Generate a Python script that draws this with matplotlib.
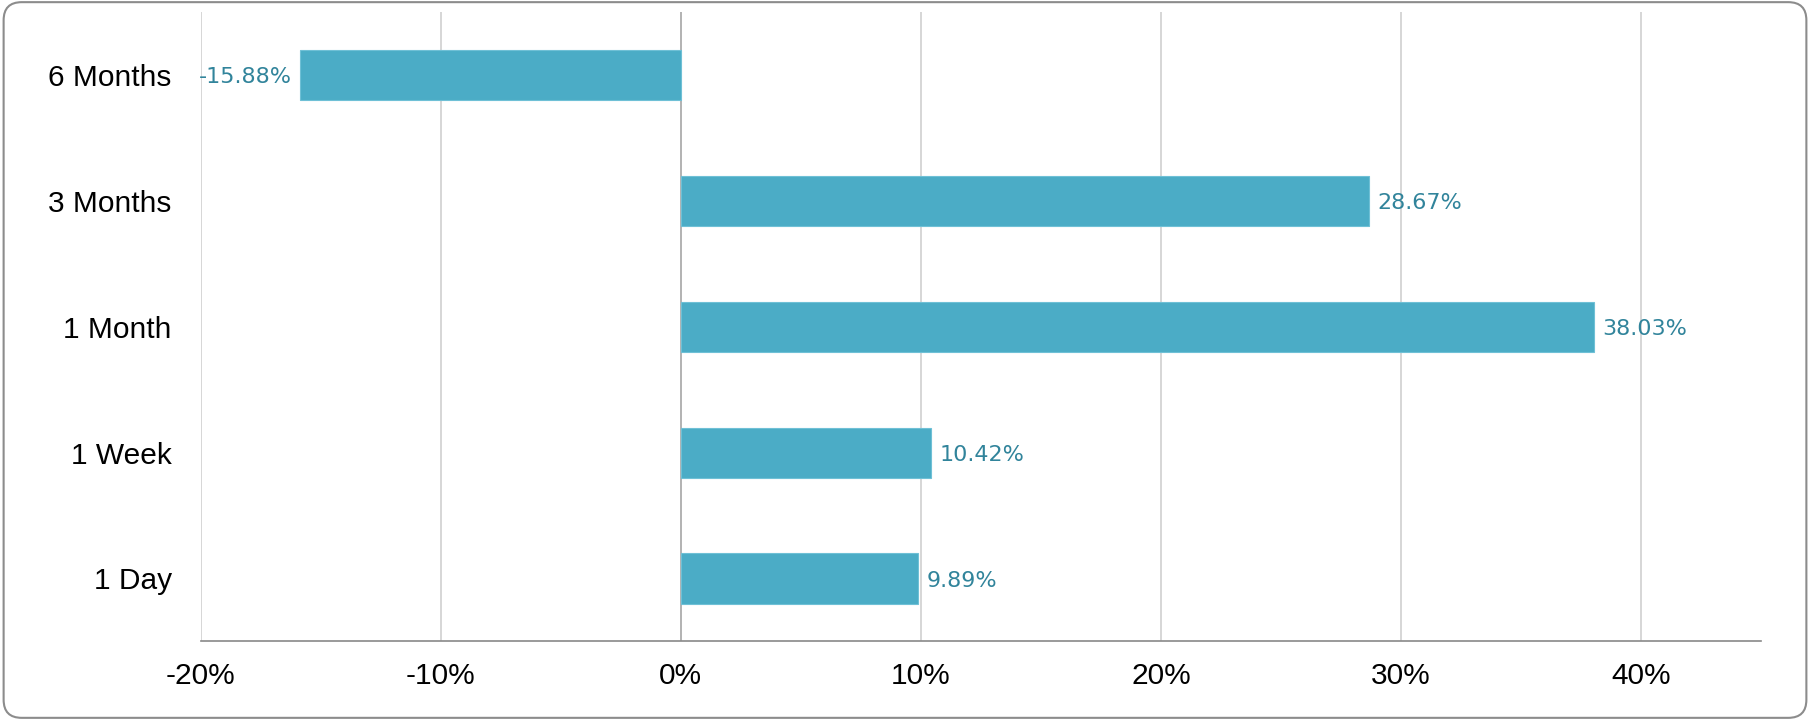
from matplotlib import pyplot as plt
from matplotlib.patches import FancyBboxPatch
from matplotlib.ticker import FuncFormatter

# chart data
periods = ["1 Day", "1 Week", "1 Month", "3 Months", "6 Months"]
returns = [9.89, 10.42, 38.03, 28.67, -15.88]
x_ticks = [-20, -10, 0, 10, 20, 30, 40]

bar_color = "#4BACC6"
label_color = "#31849B"

fig = plt.figure(figsize=(18.1, 7.2), dpi=100)
ax = fig.add_axes([0.1110, 0.1092, 0.8619, 0.8736])

ax.barh(range(len(periods)), returns, height=0.4, color=bar_color,
        edgecolor="#6FC0D6", linewidth=0.8, zorder=3)

# value labels next to bar ends
for i, val in enumerate(returns):
    if val >= 0:
        ax.annotate(f"{val:.2f}%", (val, i), xytext=(6, -1.5), textcoords="offset points",
                    ha="left", va="center", fontsize=16, color=label_color,
                    family="DejaVu Sans", zorder=4)
    else:
        ax.annotate(f"{val:.2f}%", (val, i), xytext=(-6, -1.5), textcoords="offset points",
                    ha="right", va="center", fontsize=16, color=label_color,
                    family="DejaVu Sans", zorder=4)

ax.set_xlim(-20, 45)
ax.set_ylim(-0.5, len(periods) - 0.5)
ax.set_xticks(x_ticks)
ax.xaxis.set_major_formatter(FuncFormatter(lambda v, p: f"{v:.0f}%"))
ax.set_yticks(range(len(periods)))
ax.set_yticklabels(periods)

# vertical gridlines, zero line a bit darker
for t in x_ticks:
    ax.axvline(t, color="#A6A6A6" if t == 0 else "#D0D0D0", linewidth=1.2, zorder=1)

for side in ["top", "right", "left"]:
    ax.spines[side].set_visible(False)
ax.spines["bottom"].set_color("#898989")
ax.spines["bottom"].set_linewidth(1.2)

ax.tick_params(axis="both", length=0, labelsize=21.5, labelcolor="black")
ax.tick_params(axis="y", pad=21)
ax.tick_params(axis="x", pad=15)
for lbl in ax.get_xticklabels() + ax.get_yticklabels():
    lbl.set_family(["Liberation Sans", "DejaVu Sans"])

# rounded frame around the whole chart
frame = FancyBboxPatch((0.002, 0.003), 0.996, 0.994, boxstyle="round,pad=0,rounding_size=0.01",
                       transform=fig.transFigure, facecolor="none", edgecolor="#8C8C8C",
                       linewidth=1.5, mutation_aspect=18.1 / 7.2)
fig.patches.append(frame)

fig.savefig("out.png", dpi=100)
